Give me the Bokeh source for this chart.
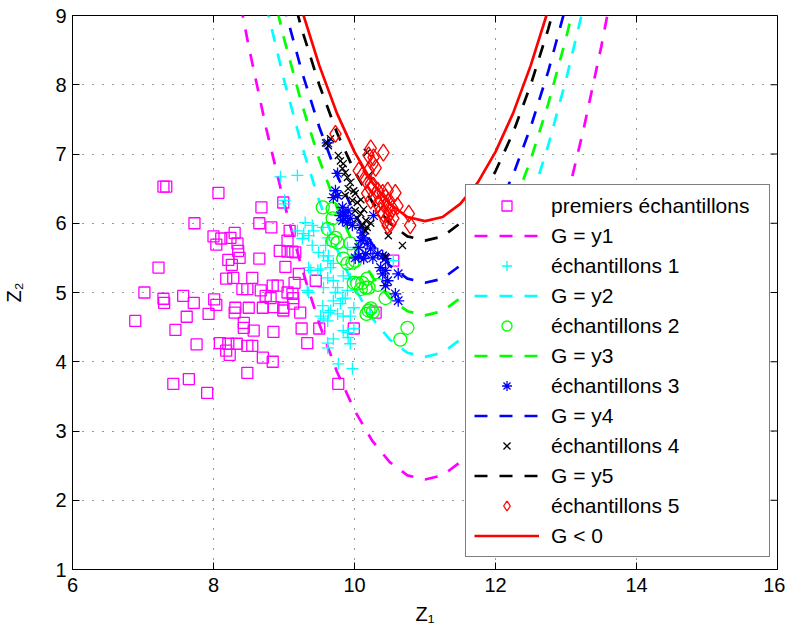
import math
from bokeh.plotting import figure
from bokeh.models import Range1d, FixedTicker, Legend, LegendItem
from bokeh.embed import file_html
from bokeh.resources import INLINE

# ---------------- data ----------------
X_TICKS = [6, 8, 10, 12, 14, 16]
Y_TICKS = [1, 2, 3, 4, 5, 6, 7, 8, 9]

CURVE_Z1 = [8.25, 8.5, 8.75, 9.0, 9.25, 9.5, 9.75, 10.0, 10.25, 10.5, 10.75, 11.0,
            11.25, 11.5, 11.75, 12.0, 12.25, 12.5, 12.75, 13.0, 13.25, 13.5, 13.75]
G_Y1 = [9.86, 8.55, 7.36, 6.30, 5.36, 4.55, 3.86, 3.30, 2.86, 2.55, 2.36, 2.30,
        2.36, 2.55, 2.86, 3.30, 3.86, 4.55, 5.36, 6.30, 7.36, 8.55, 9.86]
G_Y2 = [11.63, 10.32, 9.13, 8.07, 7.13, 6.32, 5.63, 5.07, 4.63, 4.32, 4.13, 4.07,
        4.13, 4.32, 4.63, 5.07, 5.63, 6.32, 7.13, 8.07, 9.13, 10.32, 11.63]
G_Y3 = [12.23, 10.92, 9.73, 8.67, 7.73, 6.92, 6.23, 5.67, 5.23, 4.92, 4.73, 4.67,
        4.73, 4.92, 5.23, 5.67, 6.23, 6.92, 7.73, 8.67, 9.73, 10.92, 12.23]
G_Y4 = [12.70, 11.39, 10.20, 9.14, 8.20, 7.39, 6.70, 6.14, 5.70, 5.39, 5.20, 5.14,
        5.20, 5.39, 5.70, 6.14, 6.70, 7.39, 8.20, 9.14, 10.20, 11.39, 12.70]
G_Y5 = [13.31, 12.00, 10.81, 9.75, 8.81, 8.00, 7.31, 6.75, 6.31, 6.00, 5.81, 5.75,
        5.81, 6.00, 6.31, 6.75, 7.31, 8.00, 8.81, 9.75, 10.81, 12.00, 13.31]
G_0 = [13.59, 12.28, 11.09, 10.03, 9.09, 8.28, 7.59, 7.03, 6.59, 6.28, 6.09, 6.03,
       6.09, 6.28, 6.59, 7.03, 7.59, 8.28, 9.09, 10.03, 11.09, 12.28, 13.59]

PREM_Z1 = [7.29, 7.33, 8.07, 7.73, 8.00, 8.11, 8.04, 8.30, 8.24, 8.34, 8.35, 8.37, 8.21, 8.26,
           8.28, 8.18, 7.22, 8.41, 8.48, 7.02, 7.29, 7.30, 7.57, 7.72, 8.01, 8.04, 7.93, 7.62,
           6.89, 7.46, 8.31, 8.30, 8.50, 8.43, 8.43, 7.76, 8.09, 8.21, 8.18, 8.23, 8.33, 8.48,
           8.48, 7.65, 7.43, 7.91, 8.68, 8.65, 8.82, 9.08, 9.05, 8.94, 9.05, 9.12, 9.16, 9.02,
           8.65, 8.55, 8.67, 8.74, 8.81, 8.84, 8.91, 9.15, 9.21, 9.45, 9.05, 9.12, 9.13, 8.70,
           8.85, 8.99, 8.99, 9.13, 9.23, 8.57, 8.85, 9.25, 9.50, 9.33, 8.55, 8.70, 8.84, 9.77,
           8.99, 10.55, 9.99, 10.30]
PREM_Z2 = [6.53, 6.53, 6.44, 6.00, 5.81, 5.78, 5.69, 5.86, 5.79, 5.71, 5.60, 5.50, 5.47, 5.40,
           5.21, 5.20, 5.36, 5.05, 5.05, 5.00, 4.91, 4.85, 4.95, 4.85, 4.90, 4.82, 4.69, 4.65,
           4.59, 4.46, 4.78, 4.71, 4.78, 4.56, 4.49, 4.25, 4.27, 4.26, 4.16, 4.10, 4.26, 4.23,
           3.84, 3.75, 3.68, 3.55, 6.23, 6.00, 5.94, 5.89, 5.75, 5.60, 5.59, 5.59, 5.58, 5.37,
           5.49, 5.21, 5.03, 4.95, 4.92, 5.10, 5.10, 5.14, 5.27, 5.17, 5.00, 4.98, 4.92, 4.78,
           4.79, 4.78, 4.74, 4.84, 4.71, 4.45, 4.43, 4.48, 4.48, 4.27, 4.23, 4.06, 4.00, 3.68,
           6.30, 5.46, 4.48, 4.71]

ECH1_Z1 = [8.95, 9.19, 9.01, 9.01, 9.30, 9.19, 9.28, 9.35, 9.42, 9.26, 9.55, 9.56, 9.62, 9.66,
           9.52, 9.35, 9.38, 9.62, 9.70, 9.76, 9.73, 9.56, 9.90, 9.87, 9.33, 9.52, 9.66, 9.76,
           9.84, 9.94, 9.40, 9.49, 9.59, 9.63, 9.70, 9.84, 9.94, 9.83, 9.80, 9.70, 9.55, 9.63,
           9.99, 9.56, 9.84, 9.90, 9.91, 9.94, 9.70, 9.62, 9.99, 10.23, 10.55, 9.77, 9.97, 9.40,
           9.48, 9.35, 9.62, 9.62, 9.62, 9.90]
ECH1_Z2 = [6.67, 6.69, 6.33, 6.28, 6.01, 5.89, 5.85, 5.82, 5.89, 5.78, 5.94, 5.53, 5.46, 5.36,
           5.34, 5.36, 5.32, 5.21, 5.17, 5.07, 5.00, 5.07, 5.03, 4.92, 5.03, 4.66, 4.74, 4.69,
           4.66, 4.66, 5.68, 5.58, 5.68, 5.53, 5.42, 5.24, 5.20, 4.91, 4.84, 4.88, 4.81, 4.71,
           4.78, 4.62, 4.45, 4.42, 4.35, 4.26, 4.33, 4.20, 4.48, 4.71, 5.46, 3.97, 3.90, 5.97,
           5.32, 5.00, 4.59, 4.27, 5.79, 5.65]

ECH2_Z1 = [9.55, 9.69, 9.69, 9.73, 9.69, 9.76, 9.94, 9.62, 9.84, 9.90, 9.97, 10.01, 9.99, 10.04,
           10.11, 10.18, 10.16, 10.20, 10.09, 10.33, 10.44, 10.23, 10.26, 10.20, 10.17, 10.75, 10.65]
ECH2_Z2 = [6.23, 6.21, 6.07, 5.79, 5.75, 5.72, 5.71, 5.92, 5.49, 5.42, 5.43, 5.46, 5.14, 5.13,
           5.14, 5.20, 5.07, 5.07, 5.05, 5.11, 4.92, 4.77, 4.72, 4.74, 4.69, 4.49, 4.32]

ECH3_Z1 = [9.62, 9.76, 9.73, 9.70, 9.76, 9.83, 9.84, 9.87, 9.80, 9.91, 9.83, 9.90, 9.94, 9.97,
           10.09, 10.11, 10.09, 10.13, 10.06, 10.18, 10.23, 10.01, 10.16, 10.26, 10.33, 10.40,
           10.44, 10.37, 10.44, 10.40, 10.47, 10.44, 10.62, 10.58, 10.62, 10.27, 10.06, 10.13]
ECH3_Z2 = [7.16, 6.72, 6.47, 6.37, 6.40, 6.23, 6.15, 6.11, 6.11, 6.18, 6.04, 6.01, 6.07, 5.97,
           5.94, 5.86, 5.75, 5.79, 5.65, 5.71, 5.63, 5.50, 5.56, 5.50, 5.56, 5.53, 5.49, 5.36,
           5.32, 5.27, 5.17, 5.10, 5.27, 4.98, 4.88, 6.11, 5.52, 5.49]

ECH4_Z1 = [9.59, 9.66, 9.63, 9.77, 9.80, 9.84, 9.83, 9.87, 9.90, 9.94, 9.91, 9.99, 10.01, 9.87,
           9.97, 10.04, 10.09, 10.01, 10.09, 10.13, 10.04, 10.16, 10.11, 10.18, 10.16, 10.23,
           10.18, 10.20, 10.44, 10.48, 10.68]
ECH4_Z2 = [7.16, 7.22, 7.12, 6.98, 6.90, 6.86, 6.79, 6.73, 6.66, 6.59, 6.50, 6.47, 6.43, 6.40,
           6.33, 6.30, 6.34, 6.18, 6.14, 6.20, 6.07, 6.04, 5.97, 5.94, 5.89, 6.00, 7.02, 6.69,
           5.52, 5.82, 5.68]

ECH5_Z1 = [9.73, 10.23, 10.20, 10.27, 10.41, 10.26, 10.30, 10.20, 10.06, 10.11, 10.16, 10.23,
           10.27, 10.23, 10.33, 10.40, 10.47, 10.44, 10.37, 10.41, 10.48, 10.47, 10.54, 10.18,
           10.23, 10.33, 10.37, 10.41, 10.48, 10.55, 10.51, 10.44, 10.47, 10.77, 10.79, 10.58, 10.61]
ECH5_Z2 = [7.29, 7.08, 6.98, 6.95, 7.02, 6.86, 6.80, 6.76, 6.76, 6.69, 6.62, 6.57, 6.54, 6.50,
           6.47, 6.44, 6.47, 6.37, 6.33, 6.28, 6.30, 6.23, 6.21, 6.43, 6.33, 6.28, 6.18, 6.14,
           6.11, 6.07, 5.99, 6.04, 5.97, 6.14, 5.97, 6.44, 6.25]

LABELS = ["premiers \u00e9chantillons", "G = y1", "\u00e9chantillons 1", "G = y2",
          "\u00e9chantillons 2", "G = y3", "\u00e9chantillons 3", "G = y4",
          "\u00e9chantillons 4", "G = y5", "\u00e9chantillons 5", "G < 0"]
X_TITLE = "Z\u2081"
Y_TITLE = "Z\u2082"

# ---------------- figure ----------------
FONT = "Liberation Sans"
p = figure(frame_width=705, frame_height=554,
           x_range=Range1d(6, 16), y_range=Range1d(1, 9),
           output_backend="svg", toolbar_location=None,
           min_border_left=72, min_border_right=8, min_border_top=15, min_border_bottom=60)
p.background_fill_color = "white"
p.border_fill_color = "white"
p.outline_line_color = "black"
p.outline_line_width = 1
p.outline_line_alpha = 1

for ax in (p.xaxis[0], p.yaxis[0]):
    ax.major_tick_in = 7
    ax.major_tick_out = 0
    ax.minor_tick_line_color = None
    ax.axis_line_color = "black"
    ax.major_tick_line_color = "black"
    ax.major_label_text_font = FONT
    ax.major_label_text_font_size = "20px"
    ax.major_label_text_color = "black"
    ax.axis_label_text_font = FONT
    ax.axis_label_text_font_size = "20px"
    ax.axis_label_text_font_style = "normal"
    ax.axis_label_text_color = "black"
p.xaxis[0].ticker = FixedTicker(ticks=X_TICKS)
p.yaxis[0].ticker = FixedTicker(ticks=Y_TICKS)
p.xaxis[0].major_label_standoff = 8
p.yaxis[0].major_label_standoff = 6
p.xaxis[0].axis_label = X_TITLE
p.xaxis[0].axis_label_standoff = 8
p.yaxis[0].axis_label = Y_TITLE
p.yaxis[0].axis_label_standoff = 27

# inner ticks on the top and right edges of the box
p.ray(x=X_TICKS, y=[Y_TICKS[-1]] * len(X_TICKS), length=7, length_units="screen",
      angle=-math.pi / 2, line_color="black", line_width=1)
p.ray(x=[X_TICKS[-1]] * len(Y_TICKS), y=Y_TICKS, length=7, length_units="screen",
      angle=math.pi, line_color="black", line_width=1)

p.xgrid.ticker = FixedTicker(ticks=X_TICKS)
p.ygrid.ticker = FixedTicker(ticks=Y_TICKS)
for g in (p.xgrid[0], p.ygrid[0]):
    g.grid_line_color = "#303030"
    g.grid_line_dash = "1 9"
    g.grid_line_width = 1

MAG, CYA, GRN, BLU, BLK, RED = "#FF00FF", "#00FFFF", "#00FF00", "#0000FF", "#000000", "#FF0000"
LW = 2.7
DASH = "13 12"

r = []
r.append(p.scatter(PREM_Z1, PREM_Z2, marker="square", size=11, line_color=MAG, fill_color=None, line_width=1.3))
r.append(p.line(CURVE_Z1, G_Y1, line_color=MAG, line_width=LW, line_dash=DASH))
r.append(p.scatter(ECH1_Z1, ECH1_Z2, marker="cross", size=12, line_color=CYA, line_width=1.3))
r.append(p.line(CURVE_Z1, G_Y2, line_color=CYA, line_width=LW, line_dash=DASH))
r.append(p.scatter(ECH2_Z1, ECH2_Z2, marker="circle", size=13, line_color=GRN, fill_color=None, line_width=1.3))
r.append(p.line(CURVE_Z1, G_Y3, line_color=GRN, line_width=LW, line_dash=DASH))
r.append(p.scatter(ECH3_Z1, ECH3_Z2, marker="asterisk", size=12, line_color=BLU, line_width=1.3))
r.append(p.line(CURVE_Z1, G_Y4, line_color=BLU, line_width=LW, line_dash=DASH))
r.append(p.scatter(ECH4_Z1, ECH4_Z2, marker="x", size=10, line_color=BLK, line_width=1.3))
r.append(p.line(CURVE_Z1, G_Y5, line_color=BLK, line_width=LW, line_dash=DASH))
r.append(p.scatter(ECH5_Z1, ECH5_Z2, marker="diamond", size=17,
                   line_color=RED, fill_color=None, line_width=1.3))
r.append(p.line(CURVE_Z1, G_0, line_color=RED, line_width=LW))

legend = Legend(items=[LegendItem(label=lab, renderers=[rr]) for lab, rr in zip(LABELS, r)],
                location=(393, 12))
legend.label_text_font = FONT
legend.label_text_font_size = "21px"
legend.label_text_color = "black"
legend.glyph_width = 65
legend.glyph_height = 25
legend.label_height = 25
legend.label_width = 210
legend.label_standoff = 12
legend.spacing = 5
legend.padding = 8
legend.margin = 0
legend.border_line_color = "black"
legend.border_line_width = 1
legend.background_fill_color = "white"
legend.background_fill_alpha = 1
p.add_layout(legend)

open("out.html", "w").write(file_html(p, INLINE))
